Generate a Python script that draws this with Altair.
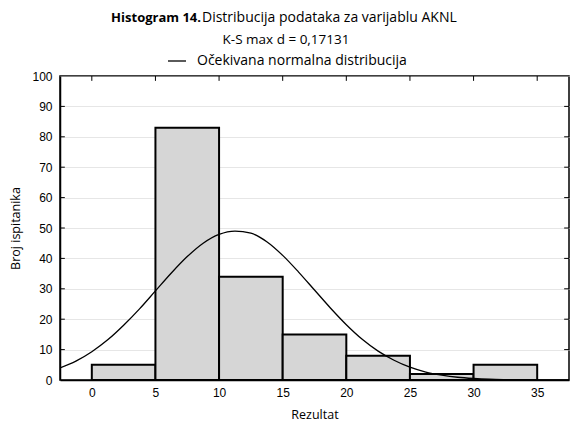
import altair as alt
import pandas as pd

# ---- data ----
bin_start = [0, 5, 10, 15, 20, 25, 30]
bin_end = [5, 10, 15, 20, 25, 30, 35]
counts = [5, 83, 34, 15, 8, 2, 5]

curve_x = [-2.5, -1.25, 0, 1.25, 2.5, 3.75, 5, 6.25, 7.5, 8.75, 10, 11.25, 12.5,
           13.75, 15, 16.25, 17.5, 18.75, 20, 21.25, 22.5, 23.75, 25, 26.25,
           27.5, 28.75, 30, 31.25, 32.5, 33.75, 35, 36.25, 37.5]
curve_y = [4.0, 6.2, 9.3, 13.2, 18.0, 23.4, 29.3, 35.2, 40.6, 45.0, 47.9, 49.0, 48.3,
           45.5, 41.0, 35.5, 29.6, 23.7, 18.2, 13.4, 9.5, 6.5, 4.2, 2.6,
           1.6, 0.9, 0.5, 0.25, 0.13, 0.06, 0.03, 0.01, 0.0]

x_ticks = [0, 5, 10, 15, 20, 25, 30, 35]
y_ticks = [0, 10, 20, 30, 40, 50, 60, 70, 80, 90, 100]

title_bold = "Histogram 14."
title_rest = "Distribucija podataka za varijablu AKNL"
subtitle = "K-S max d = 0,17131"
legend_label = "Očekivana normalna distribucija"

bars_df = pd.DataFrame({"start": bin_start, "end": bin_end, "count": counts})
curve_df = pd.DataFrame({"x": curve_x, "y": curve_y})
xt_df = pd.DataFrame({"v": x_ticks})
yt_df = pd.DataFrame({"v": y_ticks[1:-1]})
one = pd.DataFrame({"a": [0]})

xscale = alt.Scale(domain=[-2.5, 37.5], nice=False, zero=False)
yscale = alt.Scale(domain=[0, 100], nice=False)

xaxis = alt.Axis(values=x_ticks, title="Rezultat", ticks=False, labelPadding=7,
                 titlePadding=10, grid=False)
yaxis = alt.Axis(values=y_ticks, title="Broj ispitanika", ticks=False, labelPadding=8,
                 titlePadding=9, grid=True)

bars = alt.Chart(bars_df).mark_rect(fill="#d6d6d6", stroke="black", strokeWidth=2).encode(
    x=alt.X("start:Q", scale=xscale, axis=xaxis),
    x2="end:Q",
    y=alt.Y("count:Q", scale=yscale, axis=yaxis),
    y2=alt.datum(0),
)

curve = alt.Chart(curve_df).mark_line(color="black", strokeWidth=1.3,
                                      interpolate="monotone", clip=True).encode(
    x=alt.X("x:Q", scale=xscale, axis=xaxis),
    y=alt.Y("y:Q", scale=yscale, axis=yaxis),
)

top_ticks = alt.Chart(xt_df).mark_rule(color="black", strokeWidth=1).encode(
    x=alt.X("v:Q", scale=xscale, axis=xaxis),
    y=alt.YDatum(100, scale=yscale, axis=yaxis),
    y2=alt.Y2Datum(98.4),
)
left_ticks = alt.Chart(yt_df).mark_rule(color="black", strokeWidth=1).encode(
    y=alt.Y("v:Q", scale=yscale, axis=yaxis),
    x=alt.XDatum(-2.5, scale=xscale, axis=xaxis),
    x2=alt.X2Datum(-2.12),
)
right_ticks = alt.Chart(yt_df).mark_rule(color="black", strokeWidth=1).encode(
    y=alt.Y("v:Q", scale=yscale, axis=yaxis),
    x=alt.XDatum(37.5, scale=xscale, axis=xaxis),
    x2=alt.X2Datum(37.12),
)

tfont = "Open Sans"
t1 = alt.Chart(one).mark_text(text=title_bold, font=tfont, fontSize=13, fontWeight="bold",
                              align="right", baseline="middle", color="black").encode(
    x=alt.value(141), y=alt.value(-58))
t2 = alt.Chart(one).mark_text(text=title_rest, font=tfont, fontSize=14,
                              align="left", baseline="middle", color="black").encode(
    x=alt.value(142), y=alt.value(-58))
t3 = alt.Chart(one).mark_text(text=subtitle, font=tfont, fontSize=13.5,
                              align="center", baseline="middle", color="black").encode(
    x=alt.value(226), y=alt.value(-36))
leg_line = alt.Chart(one).mark_rule(color="black", strokeWidth=1.3).encode(
    x=alt.value(108), x2=alt.value(126), y=alt.value(-15))
t4 = alt.Chart(one).mark_text(text=legend_label, font=tfont, fontSize=14,
                              align="left", baseline="middle", color="black").encode(
    x=alt.value(137), y=alt.value(-15))

chart = alt.layer(bars, curve, top_ticks, left_ticks, right_ticks,
                  t1, t2, t3, leg_line, t4).properties(
    width=509, height=304,
    background="white",
    autosize=alt.AutoSizeParams(type="none"),
    padding={"left": 52, "top": 68, "right": 1, "bottom": 42},
).configure_view(
    stroke="black", strokeWidth=1.5
).configure_axis(
    labelFont="Liberation Sans", labelFontSize=12, labelColor="black",
    titleFont=tfont, titleFontSize=12.5, titleFontWeight="normal", titleColor="black",
    domain=True, domainColor="black", domainWidth=1.5,
    gridColor="#cccccc", gridDash=[1, 1], gridWidth=1,
)

chart.save("out.html", embed_options={"renderer": "svg", "actions": False})
